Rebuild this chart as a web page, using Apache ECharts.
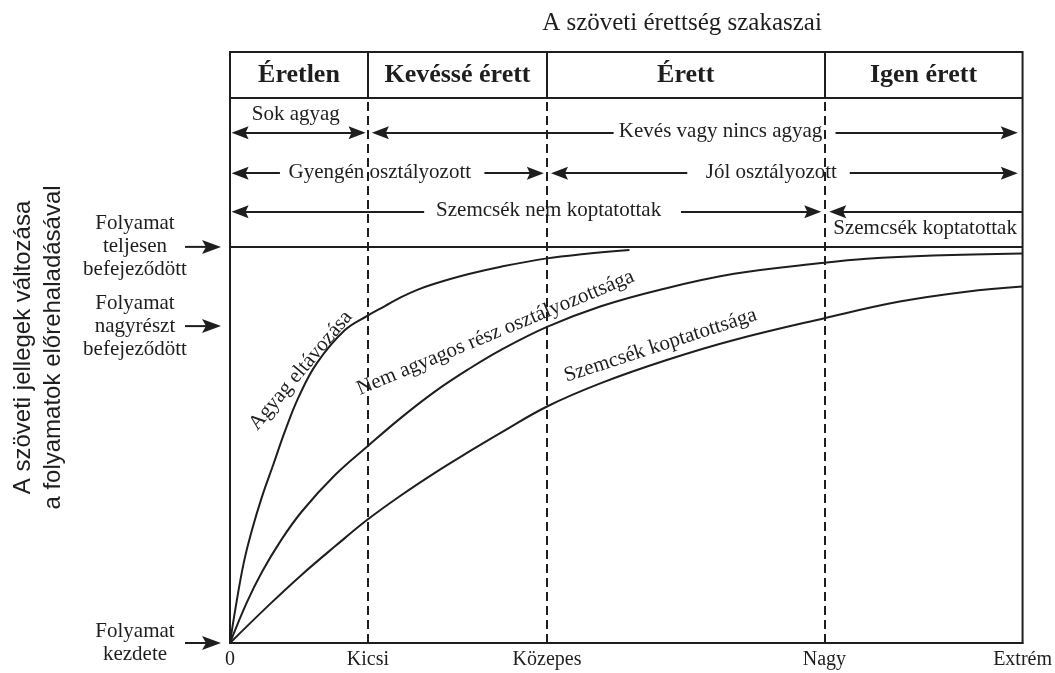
<!DOCTYPE html>
<html><head><meta charset="utf-8">
<script src="https://cdn.jsdelivr.net/npm/echarts@6/dist/echarts.min.js"></script>
<style>html,body{margin:0;padding:0;background:#fff}#c{width:1055px;height:673px}</style>
</head><body><div id="c"></div>
<script>
// ---------- data ----------
const xTickValues = [0, 17.4, 40, 75, 100];
const xTickLabels = ['0', 'Kicsi', 'Közepes', 'Nagy', 'Extrém'];
const stageNames = ['Éretlen', 'Kevéssé érett', 'Érett', 'Igen érett'];
const stageBounds = [0, 17.4, 40, 75, 100];
const levelValues = [100, 80, 0];
const levelLabels = ['Folyamat\nteljesen\nbefejeződött', 'Folyamat\nnagyrészt\nbefejeződött', 'Folyamat\nkezdete'];

const agyagData = [[0,0],[0.67,8.5],[1.72,20.1],[2.77,28.5],[4.03,36.9],[5.49,45.2],[6.96,53.6],[8.64,62.0],[10.94,70.6],[14.5,79.0],[17.32,82.6],[19.5,85.0],[21.6,87.3],[23.7,89.2],[25.8,90.7],[30,93.1],[34.2,95.0],[40,97.1],[44.7,98.2],[50.4,99.2]];
const nemAgyagosData = [[0,0],[2.14,10.3],[4.03,17.9],[6.33,25.6],[9.06,33.2],[13.25,42.4],[17.32,49.6],[21.6,56.9],[25.8,63.4],[30,69.0],[34.2,74.0],[40,79.8],[46.8,85.0],[53.9,89.0],[63.6,93.2],[75,96.0],[80.3,97.0],[88.7,97.8],[100,98.3]];
const szemcsekData = [[0,0],[4.87,9.5],[9.06,17.25],[13.25,24.4],[17.32,31.1],[21.6,37.3],[25.8,42.9],[30,48.1],[34.2,53.1],[40,59.7],[46.8,65.6],[55.2,71.5],[63.6,76.5],[75,82.0],[84.5,86.2],[92.9,88.7],[100,90.0]];

// annotation rows: [level, from, to, arrowAtStart, arrowAtEnd]  (from/to are arrow tips)
const arrowSpans = [
  [128.8, 0.2, 17.1, 1, 1],
  [128.8, 17.9, 48.4, 1, 0],
  [128.8, 76.4, 99.4, 0, 1],
  [118.6, 0.2, 6.3, 1, 0],
  [118.6, 32.1, 39.6, 0, 1],
  [118.6, 40.5, 57.7, 1, 0],
  [118.6, 78.2, 99.4, 0, 1],
  [108.9, 0.2, 24.5, 1, 0],
  [108.9, 56.9, 74.6, 0, 1],
  [108.9, 75.6, 100, 1, 0]
];
// [text, x, level]
const rowTexts = [
  ['Sok agyag', 8.3, 133.1],
  ['Kevés vagy nincs agyag', 61.9, 128.8],
  ['Gyengén osztályozott', 18.9, 118.6],
  ['Jól osztályozott', 68.3, 118.6],
  ['Szemcsék nem koptatottak', 40.2, 108.9],
  ['Szemcsék koptatottak', 87.7, 104.3]
];
// [text, x, level, angle]
const curveTexts = [
  ['Agyag eltávozása', 8.93, 68.8, 50],
  ['Nem agyagos rész osztályozottsága', 33.5, 78.3, 22.5],
  ['Szemcsék koptatottsága', 54.3, 75.1, 18]
];
const headerBottom = 137.75;
const yTop = 149.2;

// ---------- styles ----------
const INK = '#1e1e1e';
const SERIF = '"Liberation Serif","Times New Roman","DejaVu Serif",serif';
const SANS = '"Liberation Sans",Arial,sans-serif';
const ARROW = 'path://M5,0L10,17L5,14L0,17Z';
const ARROW_LEN_PX = 17;

const chart = echarts.init(document.getElementById('c'), null, {renderer: 'canvas'});

const curveStyle = {color: INK, width: 2};
const option = {
  animation: false,
  grid: {left: 228, right: 32, top: 52, bottom: 30, show: true, borderColor: INK, borderWidth: 2},
  xAxis: {
    type: 'value', min: 0, max: 100,
    splitLine: {show: false},
    axisLine: {show: true, lineStyle: {color: INK, width: 2}},
    axisTick: {show: false},
    axisLabel: {
      customValues: xTickValues,
      formatter: v => { const i = xTickValues.indexOf(v); return i >= 0 ? xTickLabels[i] : ''; },
      fontFamily: SERIF, fontSize: 20, color: INK, margin: 7
    }
  },
  yAxis: {
    type: 'value', min: 0, max: yTop,
    splitLine: {show: false},
    axisLine: {show: true, lineStyle: {color: INK, width: 2}},
    axisTick: {show: false},
    axisLabel: {show: false},
    name: 'A szöveti jellegek változása\na folyamatok előrehaladásával',
    nameLocation: 'middle', nameRotate: 90, nameGap: 162,
    nameTextStyle: {fontFamily: SANS, fontSize: 24, lineHeight: 30, color: INK}
  },
  series: [
    {type: 'line', name: 'Agyag eltávozása', data: agyagData, smooth: 0.4, symbol: 'none', lineStyle: curveStyle, silent: true},
    {type: 'line', name: 'Nem agyagos rész osztályozottsága', data: nemAgyagosData, smooth: 0.4, symbol: 'none', lineStyle: curveStyle, silent: true},
    {type: 'line', name: 'Szemcsék koptatottsága', data: szemcsekData, smooth: 0.4, symbol: 'none', lineStyle: curveStyle, silent: true}
  ]
};
chart.setOption(option);

// x units per pixel for placing arrow-symbol centres half an arrow inside the tips
const px0 = chart.convertToPixel({gridIndex: 0}, [0, 0]);
const px1 = chart.convertToPixel({gridIndex: 0}, [100, 0]);
const half = (ARROW_LEN_PX / 2) * 100 / (px1[0] - px0[0]);

const mlData = [];
mlData.push([{coord: [0, 100], symbol: 'none'}, {coord: [100, 100], symbol: 'none'}]);
mlData.push([{coord: [0, headerBottom], symbol: 'none'}, {coord: [100, headerBottom], symbol: 'none'}]);
stageBounds.slice(1, 4).forEach(b => {
  mlData.push([{coord: [b, headerBottom], symbol: 'none'}, {coord: [b, yTop], symbol: 'none'}]);
  mlData.push([{coord: [b, 0], symbol: 'none', lineStyle: {type: [9, 5], width: 2, color: INK}},
               {coord: [b, headerBottom], symbol: 'none'}]);
});
arrowSpans.forEach(s => {
  const a = s[3] ? s[1] + half : s[1];
  const b = s[4] ? s[2] - half : s[2];
  mlData.push([{coord: [a, s[0]], symbol: s[3] ? ARROW : 'none'},
               {coord: [b, s[0]], symbol: s[4] ? ARROW : 'none'}]);
});

const P = (x, y) => chart.convertToPixel({gridIndex: 0}, [x, y]);
const g = [];
function txt(text, x, y, font, extra) {
  g.push(Object.assign({type: 'text', x: x, y: y, z: 100,
    style: {text: text, font: font, fill: INK, align: 'center', verticalAlign: 'middle',
            textAlign: 'center', textVerticalAlign: 'middle'}}, extra || {}));
}
txt('A szöveti érettség szakaszai', 682, 23, '25px ' + SERIF);
stageNames.forEach((n, i) => {
  const p = P((stageBounds[i] + stageBounds[i + 1]) / 2, (headerBottom + yTop) / 2);
  txt(n, p[0], p[1] + 1, 'bold 26px ' + SERIF);
});
rowTexts.forEach(r => { const p = P(r[1], r[2]); txt(r[0], p[0], p[1] - 1, '21px ' + SERIF); });
curveTexts.forEach(c => { const p = P(c[1], c[2]); txt(c[0], p[0], p[1], '21px ' + SERIF, {rotation: c[3] * Math.PI / 180}); });
levelValues.forEach((v, i) => {
  const p = P(0, v);
  g.push({type: 'text', x: p[0] - 95, y: p[1], z: 100,
    style: {text: levelLabels[i], font: '21px ' + SERIF, fill: INK, align: 'center', verticalAlign: 'middle',
            textAlign: 'center', textVerticalAlign: 'middle', lineHeight: 23}});
  const tip = p[0] - 9;
  g.push({type: 'line', z: 100, shape: {x1: tip - 36, y1: p[1], x2: tip - 10, y2: p[1]}, style: {stroke: INK, lineWidth: 2}});
  g.push({type: 'polygon', z: 100, shape: {points: [[tip, p[1]], [tip - 19, p[1] - 7], [tip - 15, p[1]], [tip - 19, p[1] + 7]]}, style: {fill: INK}});
});

chart.setOption({
  series: [{}, {}, {},
    {type: 'line', name: 'frame', data: [], silent: true,
      markLine: {silent: true, symbol: 'none', symbolSize: [13, ARROW_LEN_PX],
        label: {show: false}, emphasis: {disabled: true},
        lineStyle: {type: 'solid', color: INK, width: 2},
        itemStyle: {color: INK},
        data: mlData}}],
  graphic: g
});
</script>
</body></html>
